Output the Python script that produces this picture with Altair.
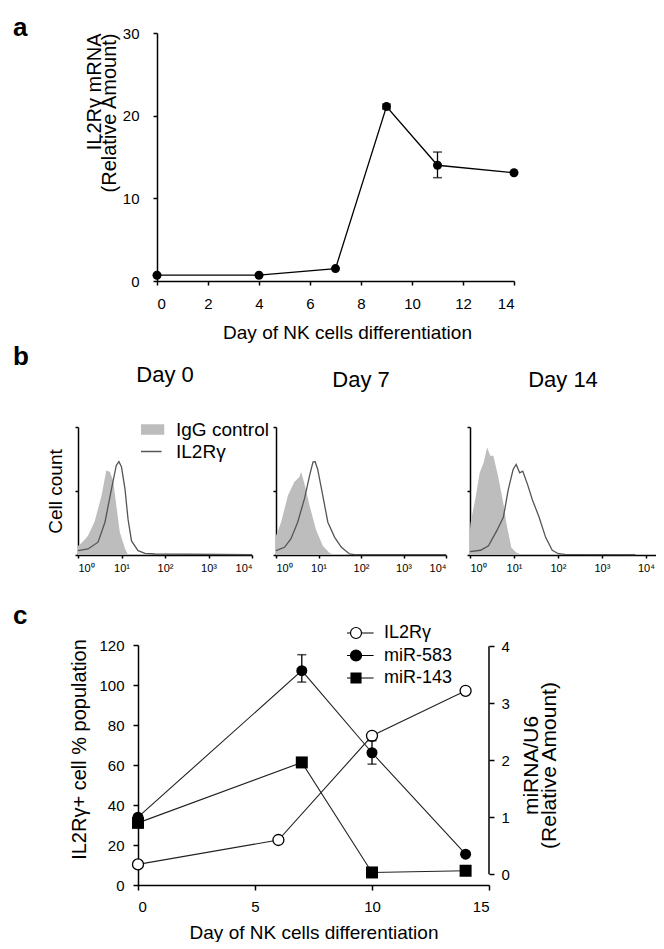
import altair as alt
import pandas as pd

FONT = "Liberation Sans"

# ---------------- Panel a ----------------
a_day = [0, 4, 7, 9, 11, 14]
a_val = [0.7, 0.7, 1.5, 21.1, 14.0, 13.1]
a_err_day = [9, 11]
a_err_lo = [20.8, 12.5]
a_err_hi = [21.4, 15.6]

# ---------------- Panel b (x = log10 fluorescence, y = relative cell count) ----------------
b_titles = ["Day 0", "Day 7", "Day 14"]
b_legend_labels = ["IgG control", "IL2Rγ"]

b0_igg_x = [0, 0.10, 0.23, 0.38, 0.54, 0.65, 0.73, 0.81, 0.88, 0.96, 1.08, 1.15]
b0_igg_y = [7, 10, 15, 26, 46, 66, 65, 58, 39, 18, 5, 0]
b0_il_x = [0, 0.23, 0.46, 0.62, 0.77, 0.88, 0.94, 1.0, 1.08, 1.15, 1.23, 1.38, 1.54, 1.77, 4.0]
b0_il_y = [3.4, 4.7, 10, 25.6, 51.7, 70, 73, 68.7, 51.7, 28, 11, 3.4, 1.3, 0.8, 0.3]

b7_igg_x = [0, 0.12, 0.28, 0.43, 0.55, 0.59, 0.67, 0.79, 0.94, 1.10, 1.26, 1.38]
b7_igg_y = [15, 25.6, 46.5, 57, 61, 65, 55.6, 38.6, 20, 7.3, 1.6, 0]
b7_il_x = [0, 0.20, 0.35, 0.51, 0.67, 0.79, 0.87, 0.92, 0.98, 1.10, 1.22, 1.38, 1.54, 1.73, 1.85, 4.0]
b7_il_y = [3.4, 6, 12.5, 25.6, 44, 62, 72.6, 73, 67, 46.5, 25.6, 13.8, 6, 0.8, 0.3, 0.3]

b14_igg_x = [0, 0.01, 0.13, 0.22, 0.31, 0.39, 0.46, 0.53, 0.64, 0.76, 0.83, 0.94, 1.05, 1.2]
b14_igg_y = [20, 24.4, 45.6, 64.2, 72.1, 84.1, 77.5, 77.5, 61.5, 40, 24.4, 5.8, 1.9, 0]
b14_il_x = [0, 0.24, 0.42, 0.61, 0.76, 0.87, 0.98, 1.05, 1.13, 1.2, 1.31, 1.42, 1.57, 1.72, 1.87, 2.01, 2.16, 3.76]
b14_il_y = [2.7, 3.7, 7.2, 19, 29.7, 51, 66.8, 70.8, 64.2, 65.5, 55, 43, 29.7, 13.8, 3.7, 1, 0.5, 0.3]

decade_ticks = [0, 1, 2, 3, 4]

# ---------------- Panel c ----------------
c_names = ["IL2Rγ", "miR-583", "miR-143"]
c_il2_day = [0, 6, 10, 14]
c_il2_val = [10.3, 22.5, 74.6, 97.1]
c_583_day = [0, 7, 10, 14]
c_583_val = [1.0, 3.57, 2.13, 0.35]
c_583_err_day = [7, 10]
c_583_err_lo = [3.37, 1.93]
c_583_err_hi = [3.85, 2.34]
c_143_day = [0, 7, 10, 14]
c_143_val = [0.9, 1.96, 0.03, 0.06]
c_left_ticks = [0, 20, 40, 60, 80, 100, 120]
c_right_ticks = [0, 1, 2, 3, 4]

BLACK = "#000000"
common_axis = dict(grid=False, domainColor=BLACK, domainWidth=1.5, tickColor=BLACK,
                   tickWidth=1.5, labelColor=BLACK, titleColor=BLACK, labelFont=FONT,
                   titleFont=FONT, titleFontWeight="normal", labelOverlap=False,
                   labelSeparation=0)

one_row = pd.DataFrame({"k": [0]})


def spacer(label, w, h, offset, dy):
    """Empty cell that carries the panel letter and reserves room."""
    return alt.Chart(one_row).mark_point(size=0, opacity=0).encode(
        x=alt.value(0), y=alt.value(0)
    ).properties(width=w, height=h, title=alt.TitleParams(
        label, anchor="start", frame="group", offset=offset, dy=dy,
        baseline="alphabetic", fontSize=26, fontWeight="bold", font=FONT, color=BLACK))


# ---------- chart a ----------
df_a = pd.DataFrame({"day": a_day, "val": a_val})
df_a_err = pd.DataFrame({"day": a_err_day, "lo": a_err_lo, "hi": a_err_hi})

xA = alt.X("day:Q", scale=alt.Scale(domain=[0, 14], nice=False),
           axis=alt.Axis(values=list(range(0, 15, 2)), title="Day of NK cells differentiation",
                         labelFontSize=15, titleFontSize=19, tickSize=4, labelPadding=11,
                         titlePadding=12, titleX=190, **common_axis))
yA = alt.Y("val:Q", scale=alt.Scale(domain=[0, 30], nice=False),
           axis=alt.Axis(values=[0, 10, 20, 30], title=["IL2Rγ mRNA", "(Relative Amount)"],
                         labelFontSize=15, titleFontSize=20, tickSize=4, labelPadding=14,
                         titlePadding=3, titleLineHeight=15, titleAnchor="end", **common_axis))

lineA = alt.Chart(df_a).mark_line(color=BLACK, strokeWidth=1.3).encode(x=xA, y=yA)
errA = alt.Chart(df_a_err).mark_rule(color=BLACK, strokeWidth=1.3).encode(x="day:Q", y="lo:Q", y2="hi:Q")
errA_lo = alt.Chart(df_a_err).mark_tick(color=BLACK, orient="horizontal", size=9, thickness=1.5).encode(x="day:Q", y="lo:Q")
errA_hi = alt.Chart(df_a_err).mark_tick(color=BLACK, orient="horizontal", size=9, thickness=1.5).encode(x="day:Q", y="hi:Q")
ptsA = alt.Chart(df_a).mark_point(filled=True, color=BLACK, size=81, opacity=1).encode(x="day:Q", y="val:Q")

chartA = alt.layer(lineA, errA, errA_lo, errA_hi, ptsA).properties(width=357, height=248)
rowA = alt.hconcat(spacer("a", 144, 311, 0, 29), chartA, spacing=0, bounds="flush")

# ---------- chart b ----------
rect_path = "M-1.84,-0.64L1.84,-0.64L1.84,0.64L-1.84,0.64Z"
stroke_path = "M-1.56,0L1.56,0"
leg_b = alt.Legend(orient="none", legendX=63, legendY=-6, title=None, labelFont=FONT,
                   labelFontSize=19, labelColor=BLACK, symbolSize=200, symbolStrokeWidth=1.5,
                   labelOffset=16, rowPadding=2, clipHeight=17, padding=0)
df_bleg = pd.DataFrame({"series": b_legend_labels})
legend_b = alt.Chart(df_bleg).mark_point(opacity=1, strokeWidth=1.5).encode(
    shape=alt.Shape("series:N", scale=alt.Scale(domain=b_legend_labels, range=[rect_path, stroke_path]), legend=leg_b),
    fill=alt.Fill("series:N", scale=alt.Scale(domain=b_legend_labels, range=["#bdbdbd", "transparent"]), legend=leg_b),
    stroke=alt.Stroke("series:N", scale=alt.Scale(domain=b_legend_labels, range=["#bdbdbd", "#555555"]), legend=leg_b),
).transform_filter("false")


def hist(igg_x, igg_y, il_x, il_y, title, width, xmax, ytitle=None, extra=None):
    df_g = pd.DataFrame({"x": igg_x, "y": igg_y})
    df_l = pd.DataFrame({"x": il_x, "y": il_y})
    xs = alt.X("x:Q", scale=alt.Scale(domain=[0, xmax], nice=False),
               axis=alt.Axis(values=decade_ticks,
                             labelExpr="'10' + ['⁰','¹','²','³','⁴'][datum.value]",
                             title=None, labelFontSize=11, tickSize=3, labelPadding=4,
                             **common_axis))
    ys = alt.Y("y:Q", scale=alt.Scale(domain=[0, 100], nice=False),
               axis=alt.Axis(values=[0, 12.5, 25, 37.5, 50, 62.5, 75, 87.5, 100], labels=False,
                             tickSize=3, title=ytitle, titleFontSize=19, titlePadding=9,
                             **common_axis))
    area = alt.Chart(df_g).mark_area(color="#bdbdbd", opacity=1).encode(x=xs, y=ys)
    line = alt.Chart(df_l).mark_line(color="#555555", strokeWidth=1.3).encode(x="x:Q", y="y:Q")
    layers = [area, line] + ([extra] if extra is not None else [])
    return alt.layer(*layers).properties(
        width=width, height=128,
        title=alt.TitleParams(title, anchor="middle", offset=17, baseline="alphabetic",
                              fontSize=22, fontWeight="normal", font=FONT, color=BLACK))


h1 = hist(b0_igg_x, b0_igg_y, b0_il_x, b0_il_y, b_titles[0], 174, 4, "Cell count", legend_b)
h2 = hist(b7_igg_x, b7_igg_y, b7_il_x, b7_il_y, b_titles[1], 170, 4)
h3 = hist(b14_igg_x, b14_igg_y, b14_il_x, b14_il_y, b_titles[2], 186, 4.23)

rowB = alt.hconcat(spacer("b", 41, 176, 38.6, 3), h1, h2, h3, spacing=24, bounds="flush").resolve_scale(
    shape="independent", fill="independent", stroke="independent")

# ---------- chart c ----------
df_il2 = pd.DataFrame({"day": c_il2_day, "val": c_il2_val})
df_583 = pd.DataFrame({"day": c_583_day, "val": c_583_val})
df_143 = pd.DataFrame({"day": c_143_day, "val": c_143_val})
df_583e = pd.DataFrame({"day": c_583_err_day, "lo": c_583_err_lo, "hi": c_583_err_hi})

xC = alt.X("day:Q", scale=alt.Scale(domain=[0, 15], nice=False),
           axis=alt.Axis(values=[0, 5, 10, 15], title="Day of NK cells differentiation",
                         labelFontSize=15, titleFontSize=19, tickSize=5, labelPadding=9,
                         titlePadding=9, **common_axis))
yL = alt.Y("val:Q", scale=alt.Scale(domain=[0, 120], nice=False),
           axis=alt.Axis(values=c_left_ticks, orient="left",
                         title="IL2Rγ+ cell % population", labelFontSize=15, titleFontSize=20,
                         tickSize=5, labelPadding=9, titlePadding=9, titleY=104, **common_axis))
yR = alt.Y("val:Q", scale=alt.Scale(domain=[-0.19, 4.02], nice=False),
           axis=alt.Axis(values=c_right_ticks, format="d", orient="right", domain=False,
                         title=["miRNA/U6", "(Relative Amount)"], titleAngle=270,
                         labelFontSize=15, titleFontSize=21, tickSize=5, labelPadding=7,
                         titlePadding=14, titleLineHeight=18, **common_axis))

left_layer = alt.layer(
    alt.Chart(df_il2).mark_line(color="#222222", strokeWidth=1.1).encode(x=xC, y=yL),
    alt.Chart(df_il2).mark_point(shape="circle", filled=True, fill="#ffffff", stroke=BLACK,
                                 strokeWidth=1.3, size=121, opacity=1).encode(x=xC, y=yL),
)

circ_path = "M-3.2,0L-1,0M1,0L3.2,0M-1,0A1,1,0,1,1,1,0A1,1,0,1,1,-1,0Z"
sq_path = "M-3.2,0L-0.9,0M0.9,0L3.2,0M-0.9,-0.9L0.9,-0.9L0.9,0.9L-0.9,0.9Z"
leg_c = alt.Legend(orient="none", legendX=209, legendY=-21, title=None, labelFont=FONT,
                   labelFontSize=18, labelColor=BLACK, symbolSize=121, symbolStrokeWidth=1.2,
                   labelOffset=19, rowPadding=4.5, clipHeight=18, padding=0)
df_cleg = pd.DataFrame({"series": c_names})
legend_c = alt.Chart(df_cleg).mark_point(opacity=1, strokeWidth=1.2).encode(
    shape=alt.Shape("series:N", scale=alt.Scale(domain=c_names, range=[circ_path, circ_path, sq_path]), legend=leg_c),
    fill=alt.Fill("series:N", scale=alt.Scale(domain=c_names, range=["#ffffff", BLACK, BLACK]), legend=leg_c),
    stroke=alt.Stroke("series:N", scale=alt.Scale(domain=c_names, range=[BLACK, BLACK, BLACK]), legend=leg_c),
).transform_filter("false")

axis_line_c = alt.Chart(one_row).mark_rule(color=BLACK, strokeWidth=1.5).encode(
    x=alt.datum(15), y=alt.datum(0), y2=alt.datum(4))

right_layer = alt.layer(
    alt.Chart(df_583).mark_line(color="#222222", strokeWidth=1.1).encode(x="day:Q", y=yR),
    alt.Chart(df_143).mark_line(color="#222222", strokeWidth=1.1).encode(x="day:Q", y="val:Q"),
    axis_line_c,
    alt.Chart(df_583e).mark_rule(color=BLACK, strokeWidth=1.3).encode(x="day:Q", y="lo:Q", y2="hi:Q"),
    alt.Chart(df_583e).mark_tick(color=BLACK, orient="horizontal", size=9, thickness=1.5).encode(x="day:Q", y="lo:Q"),
    alt.Chart(df_583e).mark_tick(color=BLACK, orient="horizontal", size=9, thickness=1.5).encode(x="day:Q", y="hi:Q"),
    alt.Chart(df_583).mark_point(shape="circle", filled=True, color=BLACK, size=121, opacity=1).encode(x="day:Q", y="val:Q"),
    alt.Chart(df_143).mark_point(shape="square", filled=True, color=BLACK, size=144, opacity=1).encode(x="day:Q", y="val:Q"),
    legend_c,
)

chartC = alt.layer(left_layer, right_layer).resolve_scale(y="independent").properties(
    width=351, height=240)
rowC = alt.hconcat(spacer("c", 125, 240, 2.6, 8), chartC, spacing=0, bounds="flush").resolve_scale(
    shape="independent", fill="independent", stroke="independent")

chart = alt.vconcat(rowA, rowB, rowC, spacing=0,
                    padding={"left": 5, "top": 7, "right": 0, "bottom": 0}).resolve_scale(
    shape="independent", fill="independent", stroke="independent"
).configure(font=FONT).configure_view(stroke=None)

chart.save("out.html", embed_options={"renderer": "svg", "actions": False})
